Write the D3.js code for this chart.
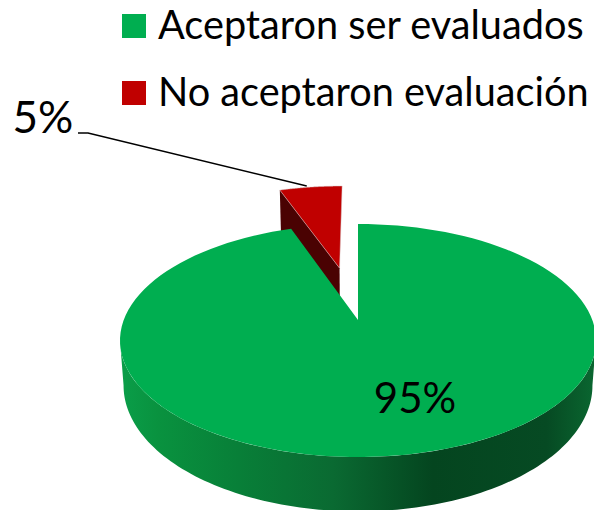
<!DOCTYPE html>
<html>
<head>
<meta charset="utf-8">
<script src="https://cdn.jsdelivr.net/npm/d3@7"></script>
<style>
  html, body { margin: 0; padding: 0; background: #fff; }
  svg { display: block; }
  text { font-family: Lato, "Open Sans", sans-serif; fill: #000; }
</style>
</head>
<body>
<div id="chart"></div>
<script>
// data
var categories = ["Aceptaron ser evaluados", "No aceptaron evaluación"]
var values = [94.6, 5.4]
var labels = ["95%", "5%"]
var colors = ["#00ae50", "#c00000"]

// layout
var width = 594, height = 510

var svg = d3.select("#chart")
  .append("svg")
    .attr("width", width)
    .attr("height", height)

var defs = svg.append("defs")

// side wall shading, left to right
var wallGrad = defs.append("linearGradient")
    .attr("id", "wall")
    .attr("gradientUnits", "userSpaceOnUse")
    .attr("x1", 120).attr("x2", 594).attr("y1", 0).attr("y2", 0)
wallGrad.selectAll("stop")
  .data([[0, "#0a9e49"], [0.08, "#09923f"], [0.25, "#087f38"], [0.45, "#0a6a32"], [0.66, "#04451f"], [0.9, "#064a23"], [1, "#0a6630"]])
  .join("stop")
    .attr("offset", function(d) { return d[0] })
    .attr("stop-color", function(d) { return d[1] })

// tilted disc: unit circle coordinates go through a perspective division
var tilt = -0.176
var xScale = d3.scaleLinear().domain([-1, 1]).range([358 - 234.3, 358 + 234.3])
var yScale = d3.scaleLinear().domain([-1, 1]).range([320 - 112.9, 320 + 112.9])
var depth = d3.scaleLinear().domain([0, 1]).range([0, 56])
var shrink = d3.scaleLinear().domain([0, 1]).range([1, 0.98])

function project(u, v, z) {
  var w = 1 + tilt * v
  return [
    xScale(0) + (xScale(u / w) - xScale(0)) * shrink(z),
    yScale(0) + (yScale(v / w) - yScale(0)) * shrink(z) + depth(z) + 20 * (1 - shrink(z))
  ]
}

// angle is clockwise from the top of the pie
function rim(a, z, off) {
  return project(off[0] + Math.sin(a), off[1] - Math.cos(a), z)
}

var line = d3.line().curve(d3.curveLinear)

var slices = d3.pie().sort(null)(values)
var green = slices[0], red = slices[1]

// red slice is pulled out along its bisector
var redMid = (red.startAngle + red.endAngle) / 2
var redOff = [0.507 * Math.sin(redMid), -0.507 * Math.cos(redMid)]
var noOff = [0, 0]

function arcPoints(a0, a1, z, off) {
  return d3.range(0, 121).map(function(i) {
    return rim(a0 + (a1 - a0) * i / 120, z, off)
  })
}

// red cut face
svg.append("path")
  .attr("d", line([
    rim(red.startAngle, 0, redOff),
    project(redOff[0], redOff[1], 0),
    project(redOff[0], redOff[1], 1),
    rim(red.startAngle, 1, redOff)
  ]) + "Z")
  .attr("fill", "#4a0202")

// red top
svg.append("path")
  .attr("d", line([project(redOff[0], redOff[1], 0)].concat(arcPoints(red.startAngle, red.endAngle, 0, redOff))) + "Z")
  .attr("fill", colors[1])
  .attr("stroke", "#d8c4c4")
  .attr("stroke-width", 0.5)

// green side wall, from the right extreme round the front to the left extreme
// the lower rim sits higher at the sides and is stretched so it still reaches the bottom
var rightEdge = 100 * Math.PI / 180, leftEdge = 260 * Math.PI / 180
var wallTop = arcPoints(rightEdge, leftEdge, 0, noOff)
var wallBottom = arcPoints(leftEdge, rightEdge, 0, noOff).map(function(p) {
  return [
    xScale(0) + (p[0] - xScale(0)) * 0.985,
    340 + (p[1] - 340) * 1.08 + 45
  ]
})
svg.append("path")
  .attr("d", line(wallTop.concat(wallBottom)) + "Z")
  .attr("fill", "url(#wall)")

// green top
svg.append("path")
  .attr("d", line([project(0, 0, 0)].concat(arcPoints(green.startAngle, green.endAngle, 0, noOff))) + "Z")
  .attr("fill", colors[0])

// leader line for the small slice
var leaderEnd = rim(redMid, 0, redOff)
svg.append("path")
  .attr("d", line([[78, 133], [88, 133], [leaderEnd[0] - 4, leaderEnd[1] - 1]]))
  .attr("fill", "none")
  .attr("stroke", "#000")
  .attr("stroke-width", 1.5)

// data labels
svg.append("text")
  .attr("x", 415).attr("y", 413)
  .attr("text-anchor", "middle")
  .attr("font-size", 42)
  .text(labels[0])
svg.append("text")
  .attr("x", 43).attr("y", 133)
  .attr("text-anchor", "middle")
  .attr("font-size", 44)
  .text(labels[1])

// legend
var legendY = d3.scalePoint().domain(categories).range([26, 93])
var legend = svg.selectAll(".legend")
  .data(categories)
  .join("g")
    .attr("class", "legend")
    .attr("transform", function(d) { return "translate(0," + legendY(d) + ")" })
legend.append("rect")
  .attr("x", 122).attr("y", -12)
  .attr("width", 24).attr("height", 24)
  .attr("fill", function(d, i) { return colors[i] })
legend.append("text")
  .attr("x", 158).attr("y", 13)
  .attr("font-size", 39.7)
  .text(function(d) { return d })
</script>
</body>
</html>
